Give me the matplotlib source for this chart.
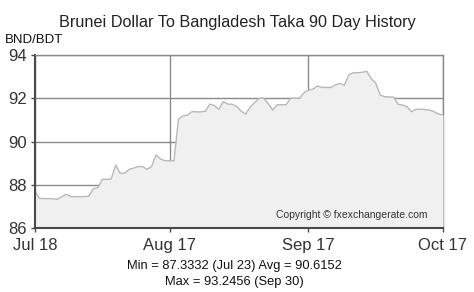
import matplotlib
matplotlib.use("Agg")
import matplotlib.pyplot as plt

plt.rcParams['font.family'] = ['Liberation Sans', 'DejaVu Sans']

# Daily BND/BDT rate, Jul 18 (day 0) .. Oct 17 (day 91)
rates = [
    87.68, 87.37, 87.36, 87.36, 87.35, 87.33, 87.45, 87.56, 87.45, 87.45,
    87.45, 87.45, 87.47, 87.82, 87.87, 88.25, 88.25, 88.27, 88.91, 88.53,
    88.53, 88.71, 88.77, 88.84, 88.84, 88.71, 88.84, 89.38, 89.19, 89.11,
    89.11, 89.11, 91.04, 91.18, 91.22, 91.38, 91.37, 91.37, 91.40, 91.73,
    91.66, 91.49, 91.84, 91.73, 91.72, 91.62, 91.40, 91.27, 91.60, 91.80,
    92.00, 92.00, 91.75, 91.46, 91.70, 91.70, 91.70, 92.00, 92.00, 92.00,
    92.25, 92.38, 92.42, 92.57, 92.50, 92.50, 92.50, 92.62, 92.69, 92.60,
    93.08, 93.18, 93.18, 93.20, 93.2456, 92.90, 92.70, 92.15, 92.07, 92.06,
    92.05, 91.72, 91.69, 91.60, 91.38, 91.49, 91.49, 91.48, 91.45, 91.38,
    91.27, 91.23,
]
days = list(range(len(rates)))

x_tick_pos = [0, 30, 61, 91]
x_tick_labels = ["Jul 18", "Aug 17", "Sep 17", "Oct 17"]
y_ticks = [86, 88, 90, 92, 94]

title = "Brunei Dollar To Bangladesh Taka 90 Day History"
pair = "BND/BDT"
stats1 = "Min = 87.3332 (Jul 23) Avg = 90.6152"
stats2 = "Max = 93.2456 (Sep 30)"
copyright_text = "Copyright \u00a9 fxexchangerate.com"

fig = plt.figure(figsize=(4.74, 2.92), dpi=100)
ax = fig.add_axes([35 / 474, (292 - 228) / 292, (443 - 35) / 474, (228 - 55) / 292])

ax.set_xlim(0, 91)
ax.set_ylim(86, 94)
ax.set_axisbelow(True)

ax.fill_between(days, rates, 86, color="#f0f0f0", zorder=1, linewidth=0)
ax.plot(days, rates, color="#b8b8b8", linewidth=1.0, zorder=2)

ax.set_xticks(x_tick_pos)
ax.set_xticklabels(x_tick_labels)
ax.set_yticks(y_ticks)
ax.grid(True, color="#8a8a8a", linewidth=1.0, zorder=0)

for s in ["top", "right"]:
    ax.spines[s].set_color("#8a8a8a")
    ax.spines[s].set_linewidth(1.0)
ax.spines["right"].set_zorder(0.5)
for s in ["left", "bottom"]:
    ax.spines[s].set_color("#4a4a4a")
    ax.spines[s].set_linewidth(1.5)

ax.tick_params(axis="both", colors="#4a4a4a", length=3, width=1,
               labelcolor="#333333", labelsize=12)
ax.tick_params(axis="x", pad=4)
ax.tick_params(axis="y", pad=3)

fig.text(237 / 474, 1 - 23 / 292, title, ha="center", va="center",
         fontsize=11.7, color="#222222")
fig.text(5 / 474, 1 - 40 / 292, pair, ha="left", va="center",
         fontsize=9.5, color="#111111")
fig.text(234 / 474, 1 - 266 / 292, stats1, ha="center", va="center",
         fontsize=9.3, color="#111111")
fig.text(234 / 474, 1 - 282.5 / 292, stats2, ha="center", va="center",
         fontsize=9.3, color="#111111")
fig.text(352 / 474, 1 - 215.5 / 292, copyright_text, ha="center", va="center",
         fontsize=7.5, color="#333333")

fig.savefig("out.png", dpi=100)
